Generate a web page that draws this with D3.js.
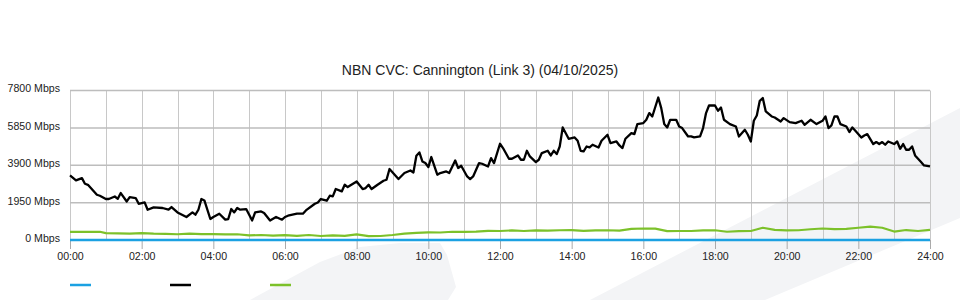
<!DOCTYPE html>
<html>
<head>
<meta charset="utf-8">
<script src="https://cdn.jsdelivr.net/npm/d3@7"></script>
<style>
  body { margin: 0; background: #fff; }
  svg { display: block; font-family: "Liberation Sans", Arial, sans-serif; }
</style>
</head>
<body>
<div id="chart"></div>
<script>
// Chart data (time in minutes since 00:00, value in Mbps)
const title = "NBN CVC: Cannington (Link 3) (04/10/2025)";
const yTicks = [0, 1950, 3900, 5850, 7800];
const xTicks = [0, 120, 240, 360, 480, 600, 720, 840, 960, 1080, 1200, 1320, 1440];
const hourLines = d3.range(0, 1441, 60);

const blackSeries = [
  [0,3370],[10,3108],[20,3230],[25,2935],[30,2880],[45,2360],[50,2310],[60,2140],[65,2140],[75,2270],
  [80,2150],[85,2450],[95,2010],[100,2240],[110,2190],[115,1890],[125,1960],[130,1580],[140,1700],[155,1670],
  [165,1580],[170,1720],[180,1440],[195,1200],[205,1440],[210,1320],[215,1580],[220,2140],[225,2065],[235,1095],
  [240,1200],[250,1370],[260,1060],[265,1095],[270,1615],[275,1440],[280,1670],[285,1580],[295,1615],[305,1020],
  [310,1440],[320,1490],[325,1410],[335,1020],[345,1200],[355,1060],[360,1200],[365,1267],[380,1371],[390,1371],
  [395,1543],[410,1893],[415,1960],[420,2138],[430,2049],[435,2310],[440,2273],[445,2659],[455,2534],[460,2883],
  [465,2763],[480,3055],[490,2659],[495,2711],[500,2883],[505,2659],[515,2883],[525,3092],[530,3144],[535,3702],
  [550,3180],[560,3493],[570,3629],[575,3525],[580,4395],[585,4567],[590,4098],[595,4015],[600,3806],[605,4328],
  [615,3405],[620,3493],[630,3577],[635,3493],[645,4150],[650,3754],[655,3874],[665,3316],[670,3180],[675,3316],
  [685,4015],[690,3978],[700,3837],[705,4275],[710,4015],[720,5021],[725,4797],[735,4239],[740,4239],[750,4411],
  [755,4187],[760,4187],[765,4656],[770,4359],[780,4067],[785,4187],[790,4536],[800,4656],[805,4411],[810,4656],
  [815,4484],[820,4880],[825,5871],[835,5282],[845,5350],[850,5177],[855,4656],[860,4620],[865,4880],[870,4828],
  [875,4969],[885,4828],[890,5177],[900,5490],[905,5058],[915,5141],[920,4932],[925,4797],[930,5282],[940,5579],
  [945,5527],[950,6048],[960,6100],[965,6272],[970,6622],[975,6444],[985,7435],[990,6882],[995,6048],[1000,5871],
  [1005,6272],[1015,6272],[1020,5923],[1025,5840],[1035,5402],[1040,5402],[1045,5350],[1055,5402],[1060,5840],[1065,6622],
  [1070,7018],[1080,7018],[1085,6742],[1090,6914],[1095,6272],[1105,6048],[1115,5923],[1120,5402],[1130,5751],[1135,5490],
  [1140,5141],[1145,6220],[1150,6497],[1155,7263],[1160,7404],[1165,6705],[1175,6444],[1180,6392],[1190,6184],[1195,6361],
  [1205,6152],[1215,6100],[1225,6220],[1230,6012],[1240,6272],[1250,6048],[1260,6220],[1265,6444],[1270,5840],[1275,5975],
  [1280,6444],[1285,6444],[1290,6048],[1300,5923],[1305,5631],[1310,5871],[1315,5699],[1325,5350],[1330,5454],[1335,5527],
  [1345,5005],[1350,5110],[1355,5005],[1360,5110],[1365,4969],[1370,5141],[1380,5005],[1385,5141],[1390,4760],[1395,5005],
  [1400,4708],[1405,4708],[1410,4880],[1415,4411],[1425,4067],[1430,3890],[1440,3838]
];

const greenSeries = [
  [0,420],[20,425],[40,420],[50,430],[60,360],[80,345],[100,330],[120,360],[140,330],[160,320],
  [180,300],[200,330],[220,305],[240,310],[260,290],[280,300],[300,240],[320,260],[340,230],[360,250],
  [380,220],[400,260],[420,210],[440,240],[460,220],[480,290],[500,200],[520,210],[540,260],[560,330],
  [580,370],[600,400],[620,390],[640,430],[660,420],[680,440],[700,480],[720,470],[740,500],[760,470],
  [780,500],[800,490],[820,510],[840,520],[860,480],[880,500],[900,510],[920,490],[940,580],[960,600],
  [980,590],[1000,460],[1020,470],[1040,470],[1060,500],[1080,510],[1100,430],[1120,460],[1140,470],[1160,640],
  [1180,530],[1200,500],[1220,510],[1240,560],[1260,600],[1280,570],[1300,580],[1320,640],[1340,700],[1360,640],
  [1380,440],[1400,520],[1420,470],[1440,530]
];

const blueSeries = [[0,0],[360,0],[720,0],[1080,0],[1440,0]];

const colors = {blue: "#1ba1e2", black: "#000000", green: "#7cc12a"};

// Dimensions
const width = 960, height = 300;
const plot = {left: 70, right: 930, top: 90.5, bottom: 240};

const svg = d3.select("#chart")
  .append("svg")
  .attr("width", width)
  .attr("height", height);

// Background decoration
svg.append("path")
  .attr("d", "M250,300 L320,262 L360,247 L400,243 L440,243 L447,255 L456,287 L448,300 Z")
  .attr("fill", "#f3f4f6");
svg.append("path")
  .attr("d", "M590,300 L960,108 L960,218 L765,300 Z")
  .attr("fill", "#f3f4f6");

// Scales
const x = d3.scaleLinear().domain([0, 1440]).range([plot.left, plot.right]);
const y = d3.scaleLinear().domain([0, 7800]).range([plot.bottom, plot.top]);

const fmtTime = m => d3.format("02d")(Math.floor(m / 60)) + ":" + d3.format("02d")(m % 60);

// Grid
svg.append("g")
  .selectAll("line")
  .data(hourLines)
  .join("line")
  .attr("x1", d => Math.round(x(d)) + 0.5)
  .attr("x2", d => Math.round(x(d)) + 0.5)
  .attr("y1", plot.top)
  .attr("y2", plot.bottom)
  .attr("stroke", "#c8c8c8")
  .attr("stroke-width", 1);

svg.append("g")
  .selectAll("line")
  .data(yTicks)
  .join("line")
  .attr("x1", plot.left)
  .attr("x2", plot.right)
  .attr("y1", d => y(d))
  .attr("y2", d => y(d))
  .attr("stroke", "#bdbdbd")
  .attr("stroke-width", 1.5);

// Y axis labels
const yAxis = svg.append("g")
  .attr("transform", `translate(${plot.left},-2)`)
  .call(d3.axisLeft(y).tickValues(yTicks).tickSize(0).tickPadding(10).tickFormat(d => d + " Mbps"));
yAxis.select(".domain").remove();
yAxis.selectAll("text").attr("font-size", 10.6).attr("fill", "#222").attr("font-family", "Liberation Sans, Arial, sans-serif");

// X axis
const xAxis = svg.append("g")
  .attr("transform", `translate(0,${plot.bottom})`)
  .call(d3.axisBottom(x).tickValues(xTicks).tickSize(9).tickPadding(3).tickFormat(fmtTime));
xAxis.select(".domain").remove();
xAxis.selectAll("line").attr("stroke", "#aaa");
xAxis.selectAll("text").attr("font-size", 10.6).attr("fill", "#222").attr("font-family", "Liberation Sans, Arial, sans-serif");

// Lines
const line = d3.line()
  .x(d => x(d[0]))
  .y(d => y(d[1]));

svg.append("path")
  .datum(greenSeries)
  .attr("fill", "none")
  .attr("stroke", colors.green)
  .attr("stroke-width", 2.2)
  .attr("stroke-linejoin", "round")
  .attr("d", line);

svg.append("path")
  .datum(blackSeries)
  .attr("fill", "none")
  .attr("stroke", colors.black)
  .attr("stroke-width", 2.3)
  .attr("stroke-linejoin", "round")
  .attr("d", line);

svg.append("path")
  .datum(blueSeries)
  .attr("fill", "none")
  .attr("stroke", colors.blue)
  .attr("stroke-width", 2.5)
  .attr("d", line);

// Title
svg.append("text")
  .attr("x", 480)
  .attr("y", 75)
  .attr("text-anchor", "middle")
  .attr("font-size", 14)
  .attr("fill", "#222")
  .text(title);

// Legend (swatches only)
const legendItems = [colors.blue, colors.black, colors.green];
svg.append("g")
  .selectAll("line")
  .data(legendItems)
  .join("line")
  .attr("x1", (d, i) => 70 + i * 100)
  .attr("x2", (d, i) => 91 + i * 100)
  .attr("y1", 285)
  .attr("y2", 285)
  .attr("stroke", d => d)
  .attr("stroke-width", 2.5);
</script>
</body>
</html>
